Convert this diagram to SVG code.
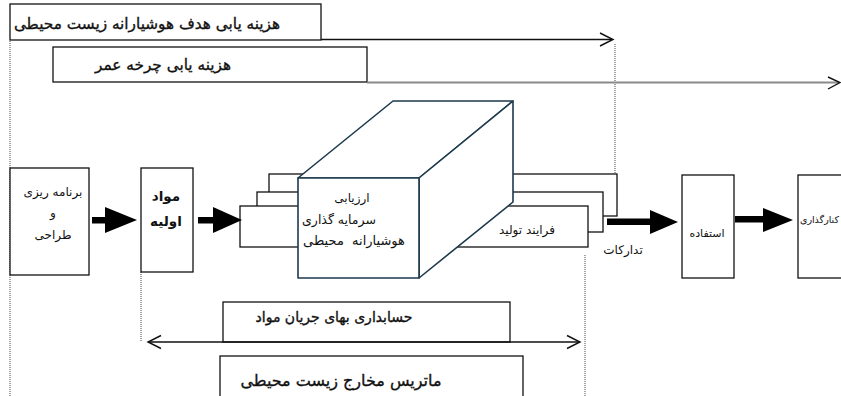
<svg xmlns="http://www.w3.org/2000/svg" width="841" height="396" viewBox="0 0 841 396">
<defs>
<style>
.box{fill:#fff;stroke:#111;stroke-width:1.3}
.cube{fill:#fff;stroke:#1c3a4c;stroke-width:1.6;stroke-linejoin:round}
.dot{stroke:#666;stroke-width:1.2;stroke-dasharray:1 1;fill:none}
.ln{stroke:#111;stroke-width:1.3;fill:none}
.lng{stroke:#8a8a8a;stroke-width:2;fill:none}
.chev{fill:none;stroke:#111;stroke-width:1.4}
.fat{fill:#000}
text{font-family:"DejaVu Sans",sans-serif;font-size:12px;fill:#111;text-anchor:middle}
.b{font-weight:bold}
.sb{stroke:#111;stroke-width:0.35}
</style>
</defs>
<g id="dotted-guides">
<line class="dot" x1="10" y1="41" x2="10" y2="396"/>
<line class="dot" x1="141" y1="272" x2="141" y2="342"/>
<line class="dot" x1="615" y1="44" x2="615" y2="174"/>
<line class="dot" x1="585" y1="255" x2="585" y2="396"/>
</g>
<g id="target-costing">
<rect class="box" x="10" y="4" width="311" height="36"/>
<text class="sb" x="147" y="29" style="font-size:15.3px">هزینه یابی هدف هوشیارانه زیست محیطی</text>
</g>
<g id="life-cycle-costing">
<rect class="box" x="53" y="47" width="314" height="35"/>
<text class="sb" x="163" y="70" style="font-size:15.3px">هزینه یابی چرخه عمر</text>
</g>
<g id="planning">
<rect class="box" x="10" y="168" width="79" height="107"/>
<text x="53" y="196">برنامه ریزی</text>
<text x="53" y="217">و</text>
<text x="53" y="239">طراحی</text>
</g>
<g id="raw-material">
<rect class="box" x="141" y="168" width="52" height="104"/>
<text class="b" x="166" y="201" style="font-size:13.5px">مواد</text>
<text class="b" x="166" y="226" style="font-size:13.5px">اولیه</text>
</g>
<g id="production">
<rect class="box" x="269" y="174" width="348" height="42"/>
<rect class="box" x="257" y="192" width="346" height="40"/>
<rect class="box" x="240" y="206" width="348" height="41"/>
<text x="527" y="234">فرایند تولید</text>
</g>
<g id="investment-cube">
<polygon class="cube" points="298,178 393,101 513,101 419,178"/>
<polygon class="cube" points="419,178 513,101 513,202 419,278"/>
<rect class="cube" x="298" y="178" width="121" height="100"/>
<text x="352" y="202">ارزیابی</text>
<text x="339" y="224" style="font-size:12.5px">سرمایه گذاری</text>
<text x="354" y="245" style="font-size:13px">هوشیارانه&#160;&#160;محیطی</text>
</g>
<g id="use">
<rect class="box" x="682" y="175" width="52" height="103"/>
<text x="707" y="237" style="font-size:11px">استفاده</text>
</g>
<g id="disposal">
<rect class="box" x="798" y="175" width="60" height="103"/>
<text x="839" y="223" style="text-anchor:end;font-size:9.5px">کنارگذاری</text>
</g>
<g id="mfca">
<rect class="box" x="223" y="302" width="287" height="40"/>
<text class="sb" x="334" y="322" style="font-size:14px">حسابداری بهای جریان مواد</text>
</g>
<g id="env-matrix">
<rect class="box" x="220" y="356" width="303" height="50"/>
<text class="sb" x="341" y="386" style="font-size:16px">ماتریس مخارج زیست محیطی</text>
</g>
<g id="connectors">
<line class="ln" x1="321" y1="39.5" x2="612" y2="39.5"/>
<polyline class="chev" points="600,33 613,39.5 600,46"/>
<line class="lng" x1="367" y1="82.5" x2="839" y2="82.5"/>
<polyline class="chev" points="828,77 840,82.5 828,89"/>
<line class="ln" x1="148" y1="342" x2="580" y2="342"/>
<polyline class="chev" points="161,335.5 148,342 161,348.5"/>
<polyline class="chev" points="567,335.5 580,342 567,348.5"/>
<rect class="fat" x="92" y="217" width="15" height="6.5"/>
<polygon class="fat" points="105,207 137,220 105,233"/>
<rect class="fat" x="198" y="217" width="17" height="6.5"/>
<polygon class="fat" points="213,207 242,220 213,233"/>
<rect class="fat" x="607" y="218.5" width="45" height="6.5"/>
<polygon class="fat" points="650,210 678,222 650,234"/>
<text x="623" y="254">تدارکات</text>
<rect class="fat" x="735" y="216" width="30" height="6.5"/>
<polygon class="fat" points="763,208 793,220 763,232"/>
</g>
</svg>
